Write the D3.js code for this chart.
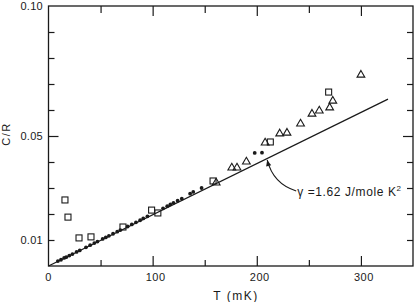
<!DOCTYPE html>
<html><head><meta charset="utf-8">
<script src="https://cdn.jsdelivr.net/npm/d3@7/dist/d3.min.js"></script>
<style>
html,body{margin:0;padding:0;background:#fff;}
svg{display:block;}
text{font-family:"Liberation Sans",Arial,sans-serif;fill:#1a1a1a;}
</style></head>
<body>
<svg id="c" width="415" height="302"></svg>
<script>
// ---- data (T in mK, C/R) ----
const dotT = [9,12,15,17,20,23,27,30,36,40,44,47,52,55,58,62,66,69,76,80,84,88,91,95,110,114,117,120,124,128,136,139,147,198,205];
const dotC = [0.0019,0.0024,0.0031,0.0034,0.0040,0.0046,0.0054,0.0060,0.0072,0.0080,0.0088,0.0094,0.0104,0.0110,0.0116,0.0124,0.0132,0.0138,0.0152,0.0160,0.0168,0.0176,0.0183,0.0191,0.0222,0.0230,0.0237,0.0243,0.0251,0.0259,0.0278,0.0285,0.0300,0.0435,0.0436];
const sqT = [15.8,18.7,29.3,40.8,71.5,99,105,158,213,269];
const sqC = [0.0254,0.0188,0.0108,0.0112,0.0150,0.0215,0.0204,0.0327,0.0477,0.0669];
const triT = [161,176,181,190,208,222,229,242,253,260,270,273,300];
const triC = [0.0323,0.0381,0.0381,0.0404,0.0477,0.0512,0.0515,0.0550,0.0588,0.0600,0.0612,0.0638,0.0738];
const fitT = [0,326];
const fitC = [0,0.0642];
const xMajor = [100,200,300];
const xMinor = [50,150,250];
const yMajor = [0.05,0.10];
const yMinor = [0.01,0.02,0.03,0.04,0.06,0.07,0.08,0.09];
const yLabels = [0.01,0.05,0.10];
const annText = "γ =1.62  J/mole K";
const annAnchorT = 210;

const svg = d3.select("#c");
const L=48.5, R=413, T0=6, B=266;
const x = d3.scaleLinear().domain([0,350]).range([L,R]);
const y = d3.scaleLinear().domain([0,0.10]).range([B,T0]);
const ink = "#1a1a1a";

// frame
svg.append("rect").attr("x",L).attr("y",T0).attr("width",R-L).attr("height",B-T0)
  .attr("fill","none").attr("stroke",ink).attr("stroke-width",1.3);

// ticks via axes
function ax(gen, vals, size, tx, ty){
  const g = svg.append("g").attr("transform",`translate(${tx},${ty})`)
    .call(gen.tickValues(vals).tickSizeInner(-size).tickSizeOuter(0).tickFormat(""));
  g.select(".domain").remove();
  g.selectAll("line").attr("stroke",ink).attr("stroke-width",1.2);
  return g;
}
ax(d3.axisBottom(x), xMajor, 10, 0, B);
ax(d3.axisBottom(x), xMinor, 6, 0, B);
ax(d3.axisTop(x), xMajor, 10, 0, T0);
ax(d3.axisTop(x), xMinor, 7, 0, T0);
ax(d3.axisLeft(y), yMajor.slice(0,1), 10, L, 0);
ax(d3.axisLeft(y), yMinor, 6, L, 0);
ax(d3.axisRight(y), yMajor.slice(0,1), 10, R, 0);
ax(d3.axisRight(y), yMinor, 6, R, 0);

// tick labels
const fmtY = d3.format(".2f");
svg.selectAll(".yl").data(yLabels).enter().append("text")
  .attr("x",43).attr("y",d=>y(d)+4).attr("text-anchor","end")
  .attr("font-size",11).attr("letter-spacing",0.3).text(d=>fmtY(d));
svg.selectAll(".xl").data([0].concat(xMajor)).enter().append("text")
  .attr("x",d=>x(d)+(d===0?0:3)).attr("y",281).attr("text-anchor","middle")
  .attr("font-size",11).attr("letter-spacing",0.5).text(d=>d);

// axis titles
svg.append("text").attr("transform","translate(10,134) rotate(-90)")
  .attr("text-anchor","middle").attr("font-size",11).attr("letter-spacing",1.5).text("C/R");
svg.append("text").attr("x",236).attr("y",300).attr("text-anchor","middle")
  .attr("font-size",12).attr("letter-spacing",1.5).text("T (mK)");

// fit line
const line = d3.line().x(d=>x(d[0])).y(d=>y(d[1]));
svg.append("path").attr("d",line(fitT.map((t,i)=>[t,fitC[i]])))
  .attr("fill","none").attr("stroke",ink).attr("stroke-width",1.3);

// filled dots
svg.selectAll(".dot").data(dotT.map((t,i)=>[t,dotC[i]])).enter().append("circle")
  .attr("cx",d=>x(d[0])).attr("cy",d=>y(d[1])).attr("r",1.9).attr("fill",ink);

// squares
const s=6;
svg.selectAll(".sq").data(sqT.map((t,i)=>[t,sqC[i]])).enter().append("rect")
  .attr("x",d=>x(d[0])-s/2).attr("y",d=>y(d[1])-s/2).attr("width",s).attr("height",s)
  .attr("fill","none").attr("stroke",ink).attr("stroke-width",1.1);

// triangles
const tri = d3.symbol().type(d3.symbolTriangle).size(26);
svg.selectAll(".tr").data(triT.map((t,i)=>[t,triC[i]])).enter().append("path")
  .attr("d",tri).attr("transform",d=>`translate(${x(d[0])},${y(d[1])+0.8})`)
  .attr("fill","none").attr("stroke",ink).attr("stroke-width",1.1);

// annotation
const slope = fitC[1]/fitT[1];
const tipX = x(annAnchorT), tipY = y(annAnchorT*slope)+1.5;
const tailX = tipX+29, tailY = tipY+31;
const cX = tipX+6, cY = tipY+24;
svg.append("path").attr("d",`M${tailX},${tailY} Q${cX},${cY} ${tipX},${tipY}`)
  .attr("fill","none").attr("stroke",ink).attr("stroke-width",1.1);
const ang = Math.atan2(tipY-cY, tipX-cX);
const hl=6, hw=2.6;
const bx = tipX-hl*Math.cos(ang), by = tipY-hl*Math.sin(ang);
svg.append("path").attr("d",`M${tipX},${tipY} L${bx+hw*Math.sin(ang)},${by-hw*Math.cos(ang)} L${bx-hw*Math.sin(ang)},${by+hw*Math.cos(ang)} Z`)
  .attr("fill",ink);
const at = svg.append("text").attr("x",tailX+1).attr("y",tailY+5)
  .attr("font-size",12).attr("letter-spacing",0.6).text(annText);
at.append("tspan").attr("font-size",8).attr("dy",-5).text("2");
</script>
</body></html>
